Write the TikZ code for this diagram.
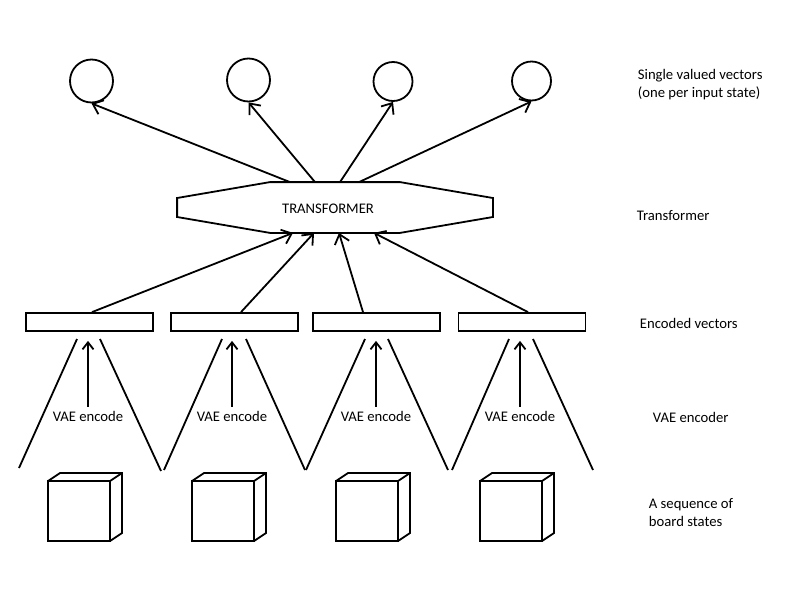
\documentclass[tikz,border=0pt]{standalone}
\usepackage{fontspec}
\setmainfont{Carlito}
\usetikzlibrary{arrows.meta,calc}
\begin{document}
\begin{tikzpicture}[x=1pt,y=-1pt,line width=1.8pt,
  every node/.style={font=\fontsize{14.67}{18}\selectfont},
  arr/.style={-{Straight Barb[length=9pt,width=15pt,line width=1.8pt]}},
  arrs/.style={-{Straight Barb[length=7pt,width=11pt,line width=1.8pt]}},
  vec/.style={draw,rectangle,minimum width=127pt,minimum height=18pt,inner sep=0pt},
  outc/.style={draw,circle,inner sep=0pt},
  lbl/.style={anchor=west,align=left,inner sep=0pt},
  enc/.style={inner sep=0pt}]
\useasboundingbox (0,0) rectangle (800,600);
% output circles
\node[outc,minimum size=43pt] (c1) at (91.5,81) {};
\node[outc,minimum size=43pt] (c2) at (248.5,80) {};
\node[outc,minimum size=39pt] (c3) at (393,81.5) {};
\node[outc,minimum size=39pt] (c4) at (531.5,81) {};
% transformer
\node[minimum width=314pt,minimum height=49pt,inner sep=0pt] (tf) at (335,207.5) {};
\node[inner sep=0pt] (tft) at ($(tf.center)+(-7,1.5)$) {TRANSFORMER};
\draw ($(tf.north)+(-65,0)$) -- ($(tf.north)+(65,0)$) -- ($(tf.east)+(0,-9.5)$) -- ($(tf.east)+(0,9.5)$)
  -- ($(tf.south)+(65,0)$) -- ($(tf.south)+(-65,0)$) -- ($(tf.west)+(0,9.5)$) -- ($(tf.west)+(0,-9.5)$) -- cycle;
% arrows to circles
\draw[arr] ($(tf.north)+(-45,0)$) -- (c1.south);
\draw[arr] ($(tf.north)+(-20,0)$) -- (c2.south);
\draw[arr] ($(tf.north)+(5,0)$) -- (c3.south);
\draw[arr] ($(tf.north)+(24,0)$) -- (c4.south);
% encoded vectors
\node[vec] (r1) at (89.5,322) {};
\node[vec] (r2) at (234.5,322) {};
\node[vec] (r3) at (376.5,322) {};
\node[vec] (r4) at (522,322) {};
% arrows to transformer
\draw[arr] ($(r1.north)+(2.5,0)$) -- ($(tf.south)+(-42,0)$);
\draw[arr] ($(r2.north)+(6.5,0)$) -- ($(tf.south)+(-21,0)$);
\draw[arr] ($(r3.north)+(-13.5,0)$) -- ($(tf.south)+(4,0)$);
\draw[arr] ($(r4.north)+(6,0)$) -- ($(tf.south)+(39,0)$);
% VAE encode labels and arrows
\node[enc] (v1) at (88,416) {VAE encode};
\node[enc] (v2) at (232,416) {VAE encode};
\node[enc] (v3) at (376,416) {VAE encode};
\node[enc] (v4) at (520,416) {VAE encode};
\foreach \i in {1,2,3,4}{
  \draw[arrs,shorten >=9pt] ([yshift=3pt]v\i.north) -- (v\i.north |- r\i.south);
}
% encoder wedges
\draw (77,339) -- (19,468);  \draw (100,339) -- (161,471);
\draw (222,339) -- (164,470); \draw (246,339) -- (305,470);
\draw (365,339) -- (306,470); \draw (388,339) -- (448,470);
\draw (509,339) -- (452,470); \draw (533,339) -- (593,470);
% cubes
\foreach \x in {48,192,336,480}{
  \draw (\x,481) rectangle ++(62,60);
  \draw (\x,481) -- ++(12,-8) -- ++(62,0) -- ++(0,60) -- ++(-12,8);
  \draw (\x+62,481) -- ++(12,-8);
}
% right labels
\node[lbl] (l1) at (637,85) {Single valued vectors\\(one per input state)};
\node[lbl] (l2) at (636,216) {Transformer};
\node[lbl] (l3) at (639,323) {Encoded vectors};
\node[lbl] (l4) at (652,417) {VAE encoder};
\node[lbl] (l5) at (648,513) {A sequence of\\board states};
\end{tikzpicture}
\end{document}
